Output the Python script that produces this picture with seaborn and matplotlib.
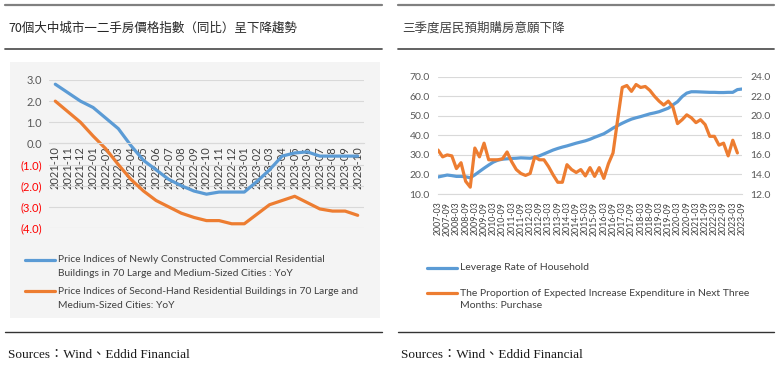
import numpy as np
import pandas as pd
import matplotlib.pyplot as plt
import seaborn as sns
from matplotlib.lines import Line2D
from matplotlib.patches import Rectangle

# --- data: left chart (70-city price indices, YoY) ---
months = ['2021-10', '2021-11', '2021-12', '2022-01', '2022-02', '2022-03', '2022-04',
          '2022-05', '2022-06', '2022-07', '2022-08', '2022-09', '2022-10', '2022-11',
          '2022-12', '2023-01', '2023-02', '2023-03', '2023-04', '2023-05', '2023-06',
          '2023-07', '2023-08', '2023-09', '2023-10']
new_home_yoy = [2.8, 2.4, 2.0, 1.7, 1.2, 0.7, -0.1, -0.8, -1.25, -1.7, -2.0, -2.25, -2.4,
                -2.3, -2.3, -2.3, -1.8, -1.25, -0.6, -0.45, -0.4, -0.6, -0.6, -0.6, -0.6]
second_hand_yoy = [2.0, 1.5, 1.0, 0.35, -0.25, -1.0, -1.7, -2.25, -2.7, -3.0, -3.3, -3.5, -3.65,
                   -3.65, -3.8, -3.8, -3.35, -2.9, -2.7, -2.5, -2.8, -3.1, -3.2, -3.2, -3.4]
left_yticks = [3, 2, 1, 0, -1, -2, -3, -4]
left_ylabels = ['3.0', '2.0', '1.0', '0.0', '(1.0)', '(2.0)', '(3.0)', '(4.0)']

# --- data: right chart (quarterly 2007-03 .. 2023-09) ---
quarters = [f'{y}-{m}' for y in range(2007, 2024) for m in ['03', '06', '09', '12']][:67]
leverage = [18.7, 19.2, 19.7, 19.4, 19.0, 19.0, 18.8, 18.3, 19.8, 21.5, 23.2, 24.8, 26.3, 27.3,
            27.8, 28.0, 28.2, 28.3, 28.5, 28.4, 28.3, 28.8, 29.5, 30.5, 31.5, 32.5, 33.3, 34.0,
            34.6, 35.3, 36.0, 36.6, 37.2, 38.0, 39.0, 39.9, 40.8, 42.2, 43.7, 45.0, 46.2, 47.3,
            48.3, 49.0, 49.6, 50.3, 51.0, 51.5, 52.1, 53.0, 53.9, 55.6, 57.2, 59.8, 61.6, 62.3,
            62.3, 62.2, 62.1, 62.0, 62.0, 61.9, 61.9, 62.0, 62.0, 63.4, 63.7]
purchase_intent = [16.5, 15.8, 16.0, 15.9, 14.6, 15.2, 13.3, 12.7, 16.7, 15.8, 17.2, 15.5, 15.5,
                   15.5, 15.6, 16.3, 15.3, 14.5, 14.1, 13.9, 14.1, 15.8, 15.5, 15.5, 14.8, 13.95,
                   13.2, 13.2, 15.0, 14.5, 14.2, 14.5, 13.85, 14.7, 13.8, 14.7, 13.6, 15.1, 16.2,
                   19.6, 22.9, 23.1, 22.5, 23.2, 22.9, 23.0, 22.6, 22.0, 21.5, 21.1, 21.5, 20.9,
                   19.2, 19.6, 20.1, 19.8, 19.3, 19.6, 19.1, 17.9, 17.9, 17.0, 17.2, 15.9, 17.5,
                   16.2, np.nan]

BLUE = '#5b9bd5'
ORANGE = '#ed7d31'
GRID = '#d9d9d9'
TXT = '#595959'
W, H = 777, 369

sns.set_style("white")
plt.rcParams['font.family'] = ['Lato', 'Noto Sans CJK TC', 'DejaVu Sans']


def fx(x):
    return x / W


def fy(y):
    return 1 - y / H


fig = plt.figure(figsize=(7.77, 3.69), dpi=100)

# panel background of the left chart
fig.add_artist(Rectangle((fx(10), fy(318)), fx(370), 256 / H, transform=fig.transFigure,
                         facecolor='#f4f4f4', edgecolor='none', zorder=-1))

# rules and headings
for x0, x1 in [(5, 382), (398, 774)]:
    fig.add_artist(Line2D([fx(x0), fx(x1)], [fy(5)] * 2, color='#808080', lw=1.6))
    fig.add_artist(Line2D([fx(x0), fx(x1)], [fy(49)] * 2, color='#555555', lw=1.3))
    fig.add_artist(Line2D([fx(x0), fx(x1)], [fy(332)] * 2, color='#333333', lw=1.0))
    fig.text(fx(x0 + 3), fy(355), 'Sources：Wind、Eddid Financial', fontsize=9.5,
             family=['Liberation Serif', 'Noto Sans CJK TC'], va='center', color='#1a1a1a')

fig.text(fx(8), fy(28), '70個大中城市一二手房價格指數（同比）呈下降趨勢', fontsize=9,
         family=['Noto Sans CJK TC'], va='center', color='#262626')
fig.text(fx(402), fy(28), '三季度居民預期購房意願下降', fontsize=9,
         family=['Noto Sans CJK TC'], va='center', color='#404040')

# ---------------- left chart ----------------
df_left = pd.DataFrame({'idx': np.arange(len(months)), 'new': new_home_yoy,
                        'second': second_hand_yoy})
ax1 = fig.add_axes([fx(49), fy(228), 315 / W, 148 / H])
ax1.set_facecolor('none')
sns.lineplot(data=df_left, x='idx', y='new', ax=ax1, color=BLUE, lw=2.3, errorbar=None)
sns.lineplot(data=df_left, x='idx', y='second', ax=ax1, color=ORANGE, lw=2.3, errorbar=None)
for s in ['top', 'right', 'left']:
    ax1.spines[s].set_visible(False)
ax1.spines['bottom'].set_position(('data', 0))
ax1.spines['bottom'].set_color(GRID)
ax1.spines['bottom'].set_linewidth(0.8)
ax1.set_xlim(-0.5, len(months) - 0.5)
ax1.set_ylim(-4, 3)
ax1.set_xlabel('')
ax1.set_ylabel('')
ax1.set_yticks(left_yticks)
ax1.set_yticklabels(left_ylabels)
for lab, v in zip(ax1.get_yticklabels(), left_yticks):
    lab.set_color('#ff0000' if v < 0 else TXT)
ax1.set_xticks(np.arange(len(months)))
ax1.set_xticklabels(months, rotation=90)
ax1.set_xticks(np.arange(-0.5, len(months), 1), minor=True)
ax1.tick_params(axis='y', length=0, pad=5, labelsize=8)
ax1.tick_params(axis='x', which='major', length=0, pad=2, labelsize=8, labelcolor='#404040')
ax1.tick_params(axis='x', which='minor', length=4, color=GRID, width=0.8)
ax1.yaxis.grid(True, color=GRID, lw=0.8)
ax1.set_axisbelow(True)

# left legend
fig.add_artist(Line2D([fx(25), fx(55)], [fy(260)] * 2, color=BLUE, lw=2.3))
fig.add_artist(Line2D([fx(25), fx(55)], [fy(291)] * 2, color=ORANGE, lw=2.3))
for y, t in [(260, 'Price Indices of Newly Constructed Commercial Residential'),
             (274, 'Buildings in 70 Large and Medium-Sized Cities : YoY'),
             (291, 'Price Indices of Second-Hand Residential Buildings in 70 Large and'),
             (305, 'Medium-Sized Cities: YoY')]:
    fig.text(fx(58), fy(y), t, fontsize=7.4, va='center', color='#404040')

# ---------------- right chart ----------------
df_right = pd.DataFrame({'idx': np.arange(len(quarters)), 'leverage': leverage,
                         'purchase': purchase_intent})
ax2 = fig.add_axes([fx(438), fy(194), 304 / W, 117.3 / H])
ax2.set_facecolor('none')
sns.lineplot(data=df_right, x='idx', y='leverage', ax=ax2, color=BLUE, lw=2.3, errorbar=None)
ax2.set_xlim(0, len(quarters) - 1)
ax2.set_ylim(10, 70)
ax2.set_yticks(np.arange(10, 71, 10))
ax2.set_yticklabels([f'{v:.1f}' for v in np.arange(10, 71, 10)])
ax2.set_xticks(np.arange(0, len(quarters), 2))
ax2.set_xticklabels(quarters[::2], rotation=90)
ax2.set_xlabel('')
ax2.set_ylabel('')
ax2.tick_params(axis='y', length=0, pad=6, labelsize=7.5, labelcolor=TXT)
ax2.tick_params(axis='x', length=3.5, color=GRID, width=0.8, pad=2, labelsize=6.3,
                labelcolor='#404040')
ax2.yaxis.grid(True, color=GRID, lw=0.8)
ax2.set_axisbelow(True)
for s in ['top', 'right', 'left']:
    ax2.spines[s].set_visible(False)
ax2.spines['bottom'].set_color(GRID)
ax2.spines['bottom'].set_linewidth(0.8)

ax3 = ax2.twinx()
sns.lineplot(data=df_right, x='idx', y='purchase', ax=ax3, color=ORANGE, lw=2.3, errorbar=None)
ax3.set_ylim(12, 24)
ax3.set_yticks(np.arange(12, 25, 2))
ax3.set_yticklabels([f'{v:.1f}' for v in np.arange(12, 25, 2)])
ax3.set_ylabel('')
ax3.tick_params(axis='y', length=0, pad=6, labelsize=7.5, labelcolor=TXT)
for s in ['top', 'right', 'left', 'bottom']:
    ax3.spines[s].set_visible(False)

# right legend
fig.add_artist(Line2D([fx(427), fx(457)], [fy(268)] * 2, color=BLUE, lw=2.3))
fig.add_artist(Line2D([fx(427), fx(457)], [fy(293)] * 2, color=ORANGE, lw=2.3))
for y, t in [(268, 'Leverage Rate of Household'),
             (293, 'The Proportion of Expected Increase Expenditure in Next Three'),
             (306, 'Months: Purchase')]:
    fig.text(fx(460), fy(y), t, fontsize=7.5, va='center', color='#404040')

fig.savefig('out.png', dpi=100)
